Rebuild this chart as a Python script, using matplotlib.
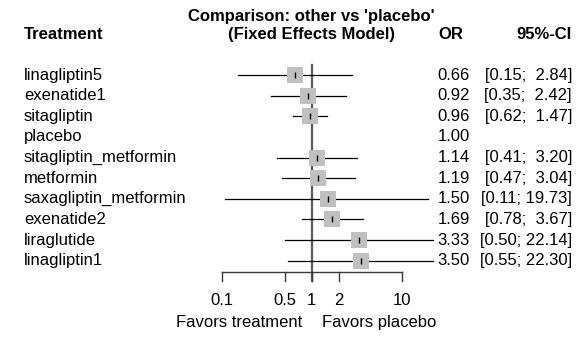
import numpy as np
import matplotlib
matplotlib.use('Agg')
import matplotlib.pyplot as plt
from matplotlib import transforms

plt.rcParams['font.family'] = ['Liberation Sans', 'DejaVu Sans']
plt.rcParams['font.size'] = 12

treatments = ['linagliptin5', 'exenatide1', 'sitagliptin', 'placebo',
              'sitagliptin_metformin', 'metformin', 'saxagliptin_metformin',
              'exenatide2', 'liraglutide', 'linagliptin1']
odds_ratio = [0.66, 0.92, 0.96, 1.00, 1.14, 1.19, 1.50, 1.69, 3.33, 3.50]
ci_lower = [0.15, 0.35, 0.62, None, 0.41, 0.47, 0.11, 0.78, 0.50, 0.55]
ci_upper = [2.84, 2.42, 1.47, None, 3.20, 3.04, 19.73, 3.67, 22.14, 22.30]
tick_values = [0.1, 0.5, 1, 2, 10]
tick_labels = ['0.1', '0.5', '1', '2', '10']

W, H = 583, 338
fig = plt.figure(figsize=(W / 100, H / 100), dpi=100)
fig.patch.set_facecolor('white')

# forest panel: 0.1..10 on a log axis, one row per treatment
ax = fig.add_axes([221.7 / W, 1 - 281.3 / H, 180 / W, (281.3 - 64.7) / H])
ax.set_xscale('log')
ax.set_xlim(0.1, 10)
ax.set_ylim(10, -0.5)
ax.axis('off')

rows = np.arange(len(treatments))

# reference line at OR = 1
ax.plot([1, 1], [-0.48, 9.97], color='#5a5a5a', lw=1.6, clip_on=False, zorder=1)

for r, o, lo, hi in zip(rows, odds_ratio, ci_lower, ci_upper):
    if lo is None:
        continue
    ax.plot([lo, hi], [r, r], color='black', lw=0.9, clip_on=False, zorder=2)
    ax.plot(o, r, marker='s', ms=11, color='#c0c0c0', mew=0, clip_on=False, zorder=3)
    ax.plot(o, r, marker='|', ms=4, color='black', mew=1.0, clip_on=False, zorder=4)

# bottom axis with downward ticks
ax.plot([0.1, 10], [9.53, 9.53], color='#3a3a3a', lw=1.0, clip_on=False)
for t, lab in zip(tick_values, tick_labels):
    ax.plot([t, t], [9.53, 9.97], color='#3a3a3a', lw=1.0, clip_on=False)
    ax.text(t, 10.92, lab, ha='center', va='center', clip_on=False)
ax.text(0.78, 12.02, 'Favors treatment', ha='right', va='center')
ax.text(1.30, 12.02, 'Favors placebo', ha='left', va='center')

# text columns
tr = transforms.blended_transform_factory(fig.transFigure, ax.transData)
x_lab, x_or, x_ci = 24 / W, 470 / W, 572 / W
for r, name, o, lo, hi in zip(rows, treatments, odds_ratio, ci_lower, ci_upper):
    ax.text(x_lab, r, name, transform=tr, ha='left', va='center')
    ax.text(x_or, r, f'{o:.2f}', transform=tr, ha='right', va='center')
    if lo is not None:
        ax.text(x_ci, r, f'[{lo:.2f}; {hi:5.2f}]', transform=tr, ha='right', va='center')

ax.text(x_lab, -1.94, 'Treatment', transform=tr, ha='left', va='center', fontweight='bold')
ax.text(463 / W, -1.94, 'OR', transform=tr, ha='right', va='center', fontweight='bold')
ax.text(x_ci, -1.94, '95%-CI', transform=tr, ha='right', va='center', fontweight='bold')
ax.text(1, -2.86, "Comparison: other vs 'placebo'", ha='center', va='center', fontweight='bold')
ax.text(1, -1.94, '(Fixed Effects Model)', ha='center', va='center', fontweight='bold')

fig.savefig('out.png', dpi=100)
